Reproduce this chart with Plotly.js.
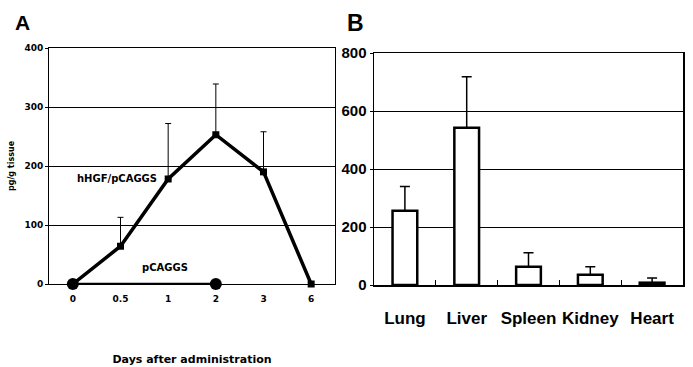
<!DOCTYPE html>
<html><head><meta charset="utf-8">
<script src="https://cdn.plot.ly/plotly-3.0.1.min.js"></script>
<style>body{margin:0;padding:0;background:#fff}</style>
</head><body>
<div id="chart" style="width:693px;height:367px"></div>
<script>
// Panel A
const daysLabels = ['0','0.5','1','2','3','6'];
const hgfValues = [0, 64, 178, 253, 190, 0];
const hgfErrUp = [0, 49, 94, 86, 68, 0];
const ctrlDays = ['0','2'];
const ctrlValues = [0, 0];
// Panel B
const organs = ['Lung','Liver','Spleen','Kidney','Heart'];
const organValues = [256, 542, 63, 35, 8];
const organErrUp = [84, 176, 48, 28, 16];

const boldA = {family:'DejaVu Sans', size:9, color:'#000', weight:'bold'};

const traces = [
  {x: ctrlDays, y: ctrlValues, xaxis:'x', yaxis:'y', type:'scatter', mode:'lines+markers',
   line:{color:'#000', width:2.5}, marker:{symbol:'circle', size:12, color:'#000'},
   showlegend:false, cliponaxis:false},
  {x: daysLabels, y: hgfValues, xaxis:'x', yaxis:'y', type:'scatter', mode:'lines+markers',
   line:{color:'#000', width:3.5}, marker:{symbol:'square', size:7, color:'#000'},
   error_y:{type:'data', symmetric:false, array: hgfErrUp, arrayminus: hgfValues.map(()=>0),
            color:'#000', thickness:1, width:3},
   showlegend:false, cliponaxis:false},
  {x: organs, y: organValues, xaxis:'x2', yaxis:'y2', type:'bar', width:0.4,
   marker:{color:'#fff', line:{color:'#000', width:2.5}},
   error_y:{type:'data', symmetric:false, array: organErrUp, arrayminus: organValues.map(()=>0),
            color:'#000', thickness:1.5, width:5},
   showlegend:false}
];

const layout = {
  width:693, height:367, margin:{l:0,r:0,t:0,b:0},
  paper_bgcolor:'#fff', plot_bgcolor:'#fff', showlegend:false,
  xaxis:{domain:[49/693, 335/693], anchor:'y', type:'category', categoryorder:'array',
    categoryarray: daysLabels, range:[-0.5, 5.5], showgrid:false, zeroline:false,
    showline:true, linecolor:'#000', linewidth:1, mirror:true,
    ticks:'', tickfont: boldA, ticklabelstandoff: 6,
    title:{text:'Days after administration', font:{family:'DejaVu Sans', size:11, color:'#000', weight:'bold'}, standoff: 52}},
  yaxis:{domain:[1-284/367, 1-48/367], anchor:'x', range:[0,400], tickvals:[0,100,200,300,400],
    showgrid:true, gridcolor:'#000', gridwidth:1, zeroline:false,
    showline:true, linecolor:'#000', linewidth:1, mirror:true,
    ticks:'outside', ticklen:3, tickcolor:'#000', tickfont: boldA,
    title:{text:'pg/g tissue', font:{family:'DejaVu Sans', size:8, color:'#000', weight:'bold'}, standoff: 8}},
  xaxis2:{domain:[374/693, 683/693], anchor:'y2', type:'category', range:[-0.5,4.5],
    showgrid:false, zeroline:false, showline:true, linecolor:'#000', linewidth:1.5, mirror:true,
    ticks:'inside', tickson:'boundaries', ticklen:5, tickcolor:'#000', tickangle:0,
    tickfont:{family:'Liberation Sans', size:17, color:'#000', weight:'bold'}, ticklabelstandoff: 17},
  yaxis2:{domain:[1-285/367, 1-53/367], anchor:'x2', range:[0,800], tickvals:[0,200,400,600,800],
    showgrid:true, gridcolor:'#000', gridwidth:1, zeroline:false,
    showline:true, linecolor:'#000', linewidth:1.5, mirror:true,
    ticks:'outside', ticklen:3, tickcolor:'#000',
    tickfont:{family:'Liberation Sans', size:15, color:'#000', weight:'bold'}},
  annotations:[
    {text:'A', xref:'paper', yref:'paper', x:22/693, y:1-22/367, xanchor:'center', yanchor:'middle',
     showarrow:false, font:{family:'Liberation Sans', size:21, color:'#000', weight:'bold'}},
    {text:'B', xref:'paper', yref:'paper', x:355/693, y:1-23/367, xanchor:'center', yanchor:'middle',
     showarrow:false, font:{family:'Liberation Sans', size:23, color:'#000', weight:'bold'}},
    {text:'hHGF/pCAGGS', xref:'x', yref:'y', x:2, y:hgfValues[2], xanchor:'right', yanchor:'middle',
     xshift:-9, showarrow:false, font:{family:'DejaVu Sans', size:10, color:'#000', weight:'bold'}},
    {text:'pCAGGS', xref:'x', yref:'y', x:2, y:0, xanchor:'center', yanchor:'bottom',
     xshift:-3, yshift:9, showarrow:false, font:{family:'DejaVu Sans', size:10, color:'#000', weight:'bold'}}
  ]
};

Plotly.newPlot('chart', traces, layout, {staticPlot:true, displayModeBar:false});
</script>
</body></html>
